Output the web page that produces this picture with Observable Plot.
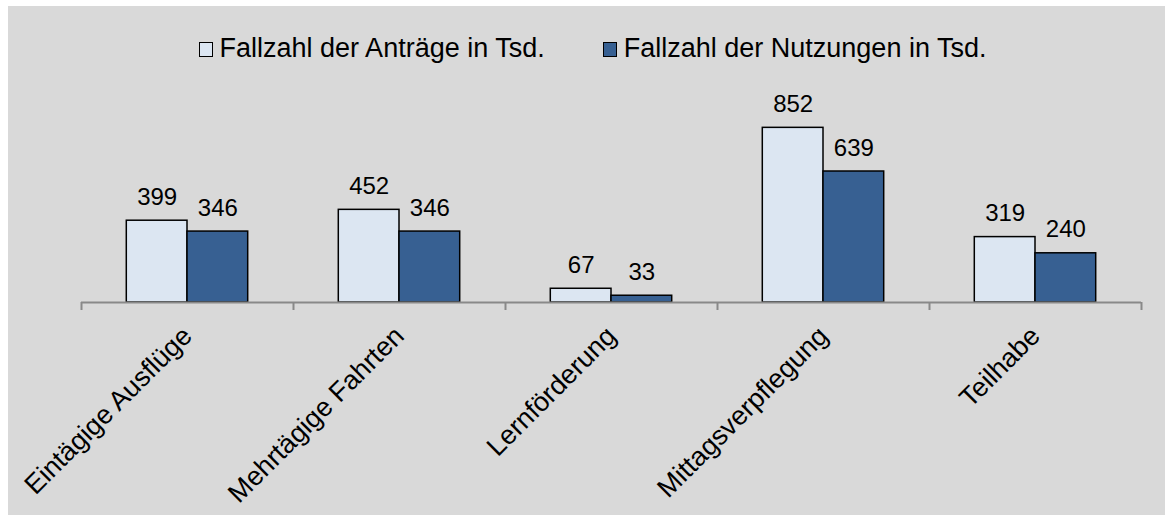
<!DOCTYPE html>
<html>
<head>
<meta charset="utf-8">
<script src="https://cdn.jsdelivr.net/npm/d3@7"></script>
<script src="https://cdn.jsdelivr.net/npm/@observablehq/plot@0.6"></script>
<style>
  html, body { margin: 0; padding: 0; background: #fff; }
  body { width: 1165px; height: 515px; overflow: hidden; font-family: "Liberation Sans", Arial, sans-serif; }
  #wrap { position: absolute; left: 8px; top: 6px; width: 1157px; height: 509px; background: #d9d9d9; }
  #legend { height: 74px; box-sizing: border-box; padding-top: 10px; display: flex; justify-content: center; gap: 58px; padding-left: 12px; font-size: 27px; line-height: 30px; color: #000; }
  .item { display: flex; align-items: center; }
  .sw { width: 12px; height: 13px; border: 1px solid #000; margin-right: 7px; margin-top: 2px; }
  svg { display: block; }
</style>
</head>
<body>
<div id="wrap">
  <div id="legend"></div>
  <div id="chart"></div>
</div>
<script>
const categories = ["Eintägige Ausflüge", "Mehrtägige Fahrten", "Lernförderung", "Mittagsverpflegung", "Teilhabe"];
const seriesNames = ["Fallzahl der Anträge in Tsd.", "Fallzahl der Nutzungen in Tsd."];
const antraege = [399, 452, 67, 852, 319];
const nutzungen = [346, 346, 33, 639, 240];
const colors = ["#dce6f2", "#376092"];

const dataA = categories.map((c, i) => ({category: c, value: antraege[i]}));
const dataN = categories.map((c, i) => ({category: c, value: nutzungen[i]}));

// legend
const legend = document.getElementById("legend");
seriesNames.forEach((name, i) => {
  const item = document.createElement("div");
  item.className = "item";
  const sw = document.createElement("span");
  sw.className = "sw";
  sw.style.background = colors[i];
  const t = document.createElement("span");
  t.textContent = name;
  item.appendChild(sw);
  item.appendChild(t);
  legend.appendChild(item);
});

const W = 1157, H = 435;
const mL = 73, mR = 24, mT = 17, mB = 213;
const step = (W - mL - mR) / categories.length;
const half = step / 2;
const barW = 60.7;
const outer = half - barW;

const chart = Plot.plot({
  width: W,
  height: H,
  marginLeft: mL,
  marginRight: mR,
  marginTop: mT,
  marginBottom: mB,
  style: {background: "transparent", fontFamily: "'Liberation Sans', Arial, sans-serif", fontSize: "27px", color: "#000", overflow: "visible"},
  x: {domain: categories, padding: 0, tickRotate: -45, tickSize: 0, tickPadding: 29, label: null},
  y: {domain: [0, 1000], axis: null},
  marks: [
    Plot.barY(dataA, {x: "category", y: "value", fill: colors[0], stroke: "#000", strokeWidth: 1.5, insetLeft: outer, insetRight: half}),
    Plot.barY(dataN, {x: "category", y: "value", fill: colors[1], stroke: "#000", strokeWidth: 1.5, insetLeft: half, insetRight: outer}),
    Plot.text(dataA, {x: "category", y: "value", text: d => String(d.value), dx: -barW / 2, dy: -16, lineAnchor: "bottom", fontSize: 24, fill: "#000"}),
    Plot.text(dataN, {x: "category", y: "value", text: d => String(d.value), dx: barW / 2, dy: -16, lineAnchor: "bottom", fontSize: 24, fill: "#000"}),
    Plot.ruleY([0], {stroke: "#898989", strokeWidth: 2}),
    Plot.ruleX(categories, {x: d => d, y1: 0, y2: 0, dx: -half, insetBottom: -8, stroke: "#898989", strokeWidth: 2}),
    Plot.ruleX(categories.slice(-1), {x: d => d, y1: 0, y2: 0, dx: half, insetBottom: -8, stroke: "#898989", strokeWidth: 2})
  ]
});
document.getElementById("chart").appendChild(chart);
</script>
</body>
</html>
